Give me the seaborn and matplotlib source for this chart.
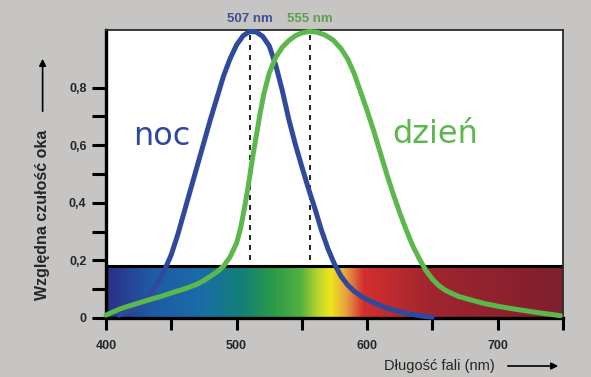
import numpy as np
import matplotlib
matplotlib.use('Agg')
import matplotlib.pyplot as plt
from matplotlib.colors import LinearSegmentedColormap
import seaborn as sns

# Relative eye sensitivity
night_nm = [410, 415, 420, 425, 430, 435, 440, 445, 450, 455, 460, 465, 470, 475, 480,
            485, 490, 495, 500, 505, 510, 515, 520, 525, 530, 535, 540, 545, 550, 555,
            560, 565, 570, 575, 580, 585, 590, 595, 600, 605, 610, 615, 620, 625, 630,
            635, 640, 645, 650]
night_val = [0.01, 0.018, 0.028, 0.044, 0.065, 0.092, 0.125, 0.168, 0.22, 0.29, 0.37,
             0.45, 0.53, 0.61, 0.69, 0.765, 0.84, 0.9, 0.948, 0.98, 0.995, 0.993, 0.978,
             0.945, 0.878, 0.79, 0.69, 0.603, 0.525, 0.45, 0.38, 0.305, 0.24, 0.187,
             0.145, 0.115, 0.093, 0.077, 0.064, 0.053, 0.043, 0.035, 0.028, 0.022,
             0.016, 0.012, 0.008, 0.005, 0.003]

day_nm = [400, 405, 410, 415, 420, 425, 430, 435, 440, 445, 450, 455, 460, 465, 470,
          475, 480, 485, 490, 495, 500, 503, 506, 509, 512, 515, 518, 521, 525, 530,
          535, 540, 545, 550, 556, 562, 568, 574, 580, 585, 590, 595, 600, 605, 610,
          615, 620, 625, 630, 635, 640, 645, 650, 655, 660, 665, 670, 680, 690, 700,
          710, 720, 730, 740, 748]
day_val = [0.01, 0.02, 0.03, 0.038, 0.045, 0.052, 0.059, 0.066, 0.072, 0.079, 0.087,
           0.094, 0.101, 0.109, 0.118, 0.13, 0.145, 0.16, 0.18, 0.212, 0.26, 0.31, 0.38,
           0.46, 0.55, 0.63, 0.71, 0.78, 0.85, 0.905, 0.94, 0.963, 0.98, 0.99, 0.995,
           0.992, 0.982, 0.965, 0.935, 0.9, 0.85, 0.785, 0.72, 0.65, 0.575, 0.5, 0.43,
           0.365, 0.305, 0.25, 0.205, 0.165, 0.135, 0.112, 0.096, 0.085, 0.075, 0.062,
           0.05, 0.041, 0.033, 0.026, 0.019, 0.013, 0.008]

peak_nm = [510, 556]
peak_labels = ['507 nm', '555 nm']
curve_labels = ['noc', 'dzień']

spectrum_nm = [400, 434, 472, 503, 528, 549, 562, 572, 584, 597, 625, 650, 750]
spectrum_colors = ['#2c2f85', '#1e5ba5', '#1a6ca8', '#128078', '#2c9a48', '#52b040',
                   '#b8d430', '#f0e61a', '#e8a040', '#d43030', '#b82a2e', '#a0252f',
                   '#7e1f2c']
band_top = 0.18

x_major = [400, 500, 600, 700]
x_minor = [450, 550, 650, 750]
y_major = [0, 0.2, 0.4, 0.6, 0.8]
y_minor = [0.1, 0.3, 0.5, 0.7]
y_ticklabels = ['0', '0,2', '0,4', '0,6', '0,8']

BLUE = '#2f4a9c'
GREEN = '#5cb84c'
BG = '#c6c5c4'

sns.set_theme(style='ticks')
plt.rcParams['font.family'] = ['Liberation Sans', 'DejaVu Sans']

fig = plt.figure(figsize=(5.91, 3.77), dpi=100, facecolor=BG)
ax = fig.add_axes([106 / 591, 1 - 318 / 377, 457 / 591, 288 / 377])
ax.set_facecolor('white')

# spectrum band
pos = [(v - spectrum_nm[0]) / (spectrum_nm[-1] - spectrum_nm[0]) for v in spectrum_nm]
spec_cmap = LinearSegmentedColormap.from_list('spec', list(zip(pos, spectrum_colors)))
grad = np.linspace(0, 1, 512).reshape(1, -1)
ax.imshow(grad, extent=[400, 750, 0, band_top], aspect='auto', cmap=spec_cmap, zorder=1)
ax.hlines(band_top, 400, 750, color='black', lw=2.2, zorder=2)

# peak markers
ax.vlines(peak_nm, 0.2, 1.0, color='black', lw=1.2, linestyles=(0, (3, 3)), zorder=2)

line_kw = dict(lw=3.6, zorder=4, clip_on=False, solid_joinstyle='round',
               solid_capstyle='round')
sns.lineplot(x=night_nm, y=night_val, ax=ax, color=BLUE, **line_kw)
sns.lineplot(x=day_nm, y=day_val, ax=ax, color=GREEN, **line_kw)

ax.set_xlim(400, 750)
ax.set_ylim(0, 1.0)

for xp, lab, col in zip(peak_nm, peak_labels, ['#3d4f8f', '#5aa04f']):
    ax.text(xp, 1.027, lab, ha='center', va='baseline', color=col,
            fontsize=9.5, fontweight='bold', clip_on=False)

ax.text(443, 0.602, curve_labels[0], ha='center', va='baseline', color=BLUE,
        fontsize=23, family='DejaVu Sans')
ax.text(652, 0.609, curve_labels[1], ha='center', va='baseline', color=GREEN,
        fontsize=23, family='DejaVu Sans')

ax.set_xticks(x_major)
ax.set_xticks(x_minor, minor=True)
ax.set_yticks(y_major)
ax.set_yticks(y_minor, minor=True)
ax.set_yticklabels(y_ticklabels)
for lab in ax.get_xticklabels() + ax.get_yticklabels():
    lab.set_fontweight('bold')
    lab.set_fontsize(9)
ax.tick_params(axis='y', which='both', length=10, width=2.2, pad=4, color='black')
ax.tick_params(axis='x', which='both', length=8.5, width=2.2, pad=7, color='black')

for side in ['left', 'bottom']:
    ax.spines[side].set_linewidth(2.4)
    ax.spines[side].set_color('black')
for side in ['top', 'right']:
    ax.spines[side].set_visible(True)
    ax.spines[side].set_linewidth(1.3)
    ax.spines[side].set_color('#2a2a2a')

# axis titles with arrows
fig.text(42.6 / 591, 1 - 215 / 377, 'Względna czułość oka', rotation=90,
         ha='center', va='center', fontsize=11.5, fontweight='bold')
fig.text(439 / 591, 1 - 366 / 377, 'Długość fali (nm)', ha='center', va='center',
         fontsize=10.5)
arrow = dict(arrowstyle='-|>', color='black', lw=1.2, mutation_scale=10)
ax.annotate('', xy=(42.6 / 591, 1 - 56 / 377), xytext=(42.6 / 591, 1 - 114 / 377),
            xycoords='figure fraction', textcoords='figure fraction', arrowprops=arrow)
ax.annotate('', xy=(561 / 591, 1 - 366 / 377), xytext=(505 / 591, 1 - 366 / 377),
            xycoords='figure fraction', textcoords='figure fraction', arrowprops=arrow)

fig.savefig('out.png', dpi=100, facecolor=BG)
